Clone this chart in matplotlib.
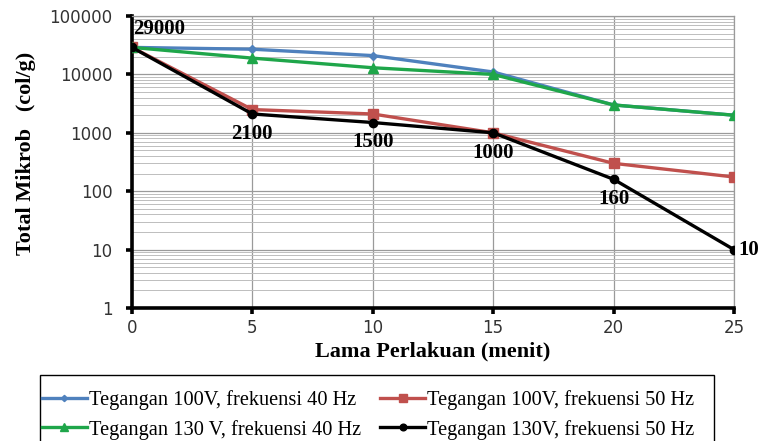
import matplotlib
matplotlib.use("Agg")
import matplotlib.pyplot as plt
from matplotlib.patches import Rectangle
from matplotlib.ticker import LogLocator, FixedLocator, FixedFormatter, NullFormatter

minutes = [0, 5, 10, 15, 20, 25]
v100_f40 = [29000, 27000, 21000, 11000, 3000, 2000]
v100_f50 = [29000, 2500, 2100, 1000, 300, 175]
v130_f40 = [29000, 19000, 13000, 10000, 3000, 2000]
v130_f50 = [29000, 2100, 1500, 1000, 160, 10]

labels = [
    "Tegangan 100V, frekuensi 40 Hz",
    "Tegangan 100V, frekuensi 50 Hz",
    "Tegangan 130 V, frekuensi 40 Hz",
    "Tegangan 130V, frekuensi 50 Hz",
]
y_ticks = [1, 10, 100, 1000, 10000, 100000]
y_tick_labels = ["1", "10", "100", "1000", "10000", "100000"]

serif = "Liberation Serif"
sans = "DejaVu Sans"

fig = plt.figure(figsize=(7.58, 4.41), dpi=100)
ax = fig.add_axes([0.1741, 0.3016, 0.7942, 0.6621])

ax.set_yscale("log")
ax.set_xlim(0, 25)
ax.set_ylim(1, 100000)

# grid
ax.yaxis.set_major_locator(FixedLocator(y_ticks))
ax.yaxis.set_major_formatter(FixedFormatter(y_tick_labels))
ax.yaxis.set_minor_locator(LogLocator(base=10, subs=range(2, 10)))
ax.yaxis.set_minor_formatter(NullFormatter())
ax.set_xticks(minutes)
ax.grid(True, which="major", color="#9a9a9a", linewidth=0.9)
ax.grid(True, which="minor", axis="y", color="#bdbdbd", linewidth=0.7)
ax.set_axisbelow(True)

for side in ("top", "right"):
    ax.spines[side].set_color("#9a9a9a")
    ax.spines[side].set_linewidth(0.9)
for side in ("left", "bottom"):
    ax.spines[side].set_color("black")
    ax.spines[side].set_linewidth(2.6)

ax.tick_params(which="major", length=4, width=2.6, color="black", labelsize=12)
ax.tick_params(axis="y", which="major", pad=10)
ax.tick_params(axis="x", which="major", pad=4)
ax.tick_params(which="minor", length=0)
for t in ax.get_xticklabels() + ax.get_yticklabels():
    t.set_fontfamily(sans)
    t.set_color("#333333")

lw = 2.4
h1, = ax.plot(minutes, v100_f40, color="#4f81bd", lw=lw, marker="D", ms=4, label=labels[0], zorder=3)
h2, = ax.plot(minutes, v100_f50, color="#c0504d", lw=lw, marker="s", ms=6.5, label=labels[1], zorder=4)
h3, = ax.plot(minutes, v130_f40, color="#1fa64a", lw=lw, marker="^", ms=6.5, label=labels[2], zorder=4)
h4, = ax.plot(minutes, v130_f50, color="black", lw=lw, marker="o", ms=6, label=labels[3], zorder=5)

# value labels on the black series
lab_kw = dict(fontfamily=serif, fontweight="bold", fontsize=15, color="black")
ax.annotate(f"{v130_f50[0]}", (minutes[0], v130_f50[0]), xytext=(0.5, 9.5),
            textcoords="offset points", ha="left", va="baseline", **lab_kw)
for i in range(1, 5):
    ax.annotate(f"{v130_f50[i]}", (minutes[i], v130_f50[i]), xytext=(0, -7),
                textcoords="offset points", ha="center", va="top", **lab_kw)
ax.annotate(f"{v130_f50[5]}", (minutes[5], v130_f50[5]), xytext=(3, 0),
            textcoords="offset points", ha="left", va="center", **lab_kw)

ax.set_xlabel("Lama Perlakuan (menit)", fontfamily=serif, fontweight="bold",
              fontsize=16, labelpad=3)
ax.set_ylabel("Total Mikrob   (col/g)", fontfamily=serif, fontweight="bold",
              fontsize=16)
ax.yaxis.set_label_coords(-0.160, 0.53)

# two rows: 100V entries on top, 130V entries below
leg = fig.legend([h1, h3, h2, h4], [labels[0], labels[2], labels[1], labels[3]],
                 loc="upper left", bbox_to_anchor=(0.0554, 0.1156), ncol=2,
                 prop={"family": serif, "size": 14.7}, frameon=False,
                 handlelength=2.2, handletextpad=0.1, columnspacing=0.95,
                 borderpad=0, labelspacing=0.48, borderaxespad=0,
                 markerscale=0.8)

# legend box, running off the lower edge of the figure
fig.patches.append(Rectangle((40 / 758, -0.05), (714 - 40) / 758, 0.1997,
                             transform=fig.transFigure, fill=False,
                             edgecolor="black", linewidth=1.0))

fig.savefig("out.png", dpi=100)
